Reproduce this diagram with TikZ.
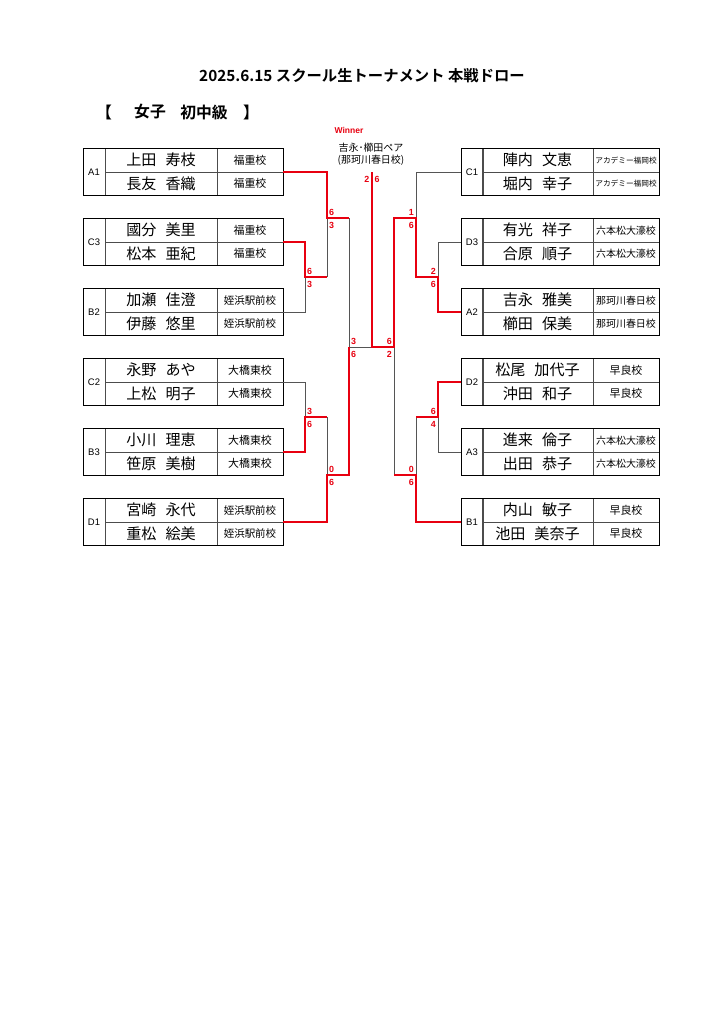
\documentclass[tikz,border=0pt]{standalone}
\usepackage{fontspec}
\setmainfont{Noto Sans CJK JP}[BoldFont={Noto Sans CJK JP Bold}]
\newfontfamily\lat{Liberation Sans}
\definecolor{wred}{RGB}{232,0,16}
\definecolor{lgray}{RGB}{85,85,85}
\newcommand\gapp{\hspace{0.6em}}
\tikzset{
  cell/.style={draw=black!70, line width=0.5pt, inner sep=0pt, outer sep=0pt, anchor=north west},
  labcell/.style={cell, minimum width=18.08pt, minimum height=38.62pt, font={\lat\fontsize{7.8}{8}\selectfont}},
  lname/.style={cell, minimum width=92.04pt, minimum height=19.31pt, font={\fontsize{12.4}{13}\selectfont}},
  rname/.style={cell, minimum width=91.22pt, minimum height=19.31pt, font={\fontsize{12.4}{13}\selectfont}},
  school/.style={cell, minimum width=54.24pt, minimum height=19.31pt},
  frame/.style={draw=black, line width=0.8pt},
  win/.style={draw=wred, line width=1.4pt, line join=miter},
  lose/.style={draw=lgray, line width=0.7pt},
  scoreL/.style={anchor=west, text=wred, inner sep=0pt, font={\lat\bfseries\fontsize{7.3}{7.3}\selectfont}},
  scoreR/.style={anchor=east, text=wred, inner sep=0pt, font={\lat\bfseries\fontsize{7.3}{7.3}\selectfont}},
}
\newcommand\LBox[7]{%
  \node[labcell] (#1) at (83,#2) {#1};
  \node[lname] (#1n1) at (105,#2) {#3};
  \node[lname] (#1n2) at (105,{#2+23.5}) {#4};
  \node[school,font={\fontsize{#7}{#7}\selectfont}] (#1s1) at (217,#2) {#5};
  \node[school,font={\fontsize{#7}{#7}\selectfont}] (#1s2) at (217,{#2+23.5}) {#6};
  \draw[frame] (#1.north west) rectangle (#1s2.south east);
}
\newcommand\RBox[7]{%
  \node[labcell] (#1) at (461,#2) {#1};
  \node[rname] (#1n1) at (482,#2) {#3};
  \node[rname] (#1n2) at (482,{#2+23.5}) {#4};
  \node[school,font={\fontsize{#7}{#7}\selectfont}] (#1s1) at (593,#2) {#5};
  \node[school,font={\fontsize{#7}{#7}\selectfont}] (#1s2) at (593,{#2+23.5}) {#6};
  \draw[frame] (#1.north west) rectangle (#1s2.south east);
}
\begin{document}
\begin{tikzpicture}[x=0.8218pt, y=-0.8218pt]
\path[use as bounding box, fill=white] (0,0) rectangle (724,1024);

% titles
\node[font={\bfseries\fontsize{12.6}{13}\selectfont}] (title) at (362,76) {2025.6.15 スクール生トーナメント 本戦ドロー};
\node[font={\bfseries\fontsize{13}{13}\selectfont}] (br1) at (104,112) {【};
\node[font={\bfseries\fontsize{13}{13}\selectfont}] (cat1) at (150,112) {女子};
\node[font={\bfseries\fontsize{13}{13}\selectfont}] (cat2) at (204,112) {初中級};
\node[font={\bfseries\fontsize{13}{13}\selectfont}] (br2) at (251,112) {】};

% left boxes
\LBox{A1}{148.5}{上田\gapp 寿枝}{長友\gapp 香織}{福重校}{福重校}{9}
\LBox{C3}{218.5}{國分\gapp 美里}{松本\gapp 亜紀}{福重校}{福重校}{9}
\LBox{B2}{288.5}{加瀬\gapp 佳澄}{伊藤\gapp 悠里}{姪浜駅前校}{姪浜駅前校}{8.6}
\LBox{C2}{358.5}{永野\gapp あや}{上松\gapp 明子}{大橋東校}{大橋東校}{9}
\LBox{B3}{428.5}{小川\gapp 理恵}{笹原\gapp 美樹}{大橋東校}{大橋東校}{9}
\LBox{D1}{498.5}{宮崎\gapp 永代}{重松\gapp 絵美}{姪浜駅前校}{姪浜駅前校}{8.6}

% right boxes
\RBox{C1}{148.5}{陣内\gapp 文恵}{堀内\gapp 幸子}{アカデミー福岡校}{アカデミー福岡校}{6.3}
\RBox{D3}{218.5}{有光\gapp 祥子}{合原\gapp 順子}{六本松大濠校}{六本松大濠校}{8.2}
\RBox{A2}{288.5}{吉永\gapp 雅美}{櫛田\gapp 保美}{那珂川春日校}{那珂川春日校}{8.2}
\RBox{D2}{358.5}{松尾\gapp 加代子}{沖田\gapp 和子}{早良校}{早良校}{9}
\RBox{A3}{428.5}{進来\gapp 倫子}{出田\gapp 恭子}{六本松大濠校}{六本松大濠校}{8.2}
\RBox{B1}{498.5}{内山\gapp 敏子}{池田\gapp 美奈子}{早良校}{早良校}{9}

% junctions
\coordinate (L1) at (305,277);
\coordinate (L2) at (305,417);
\coordinate (Q1) at (327,218);
\coordinate (Q2) at (327,475);
\coordinate (S1) at (349,347);
\coordinate (F)  at (372,347);
\coordinate (Ftop) at (372,172);
\coordinate (R1) at (438,277);
\coordinate (R2) at (438,417);
\coordinate (P1) at (416,218);
\coordinate (P2) at (416,475);
\coordinate (S2) at (394,347);

% losing lines
\draw[lose] (B2s1.south east) -| (L1);
\draw[lose] (L1 -| Q1) -- (Q1);
\draw[lose] (C2s1.south east) -| (L2);
\draw[lose] (L2 -| Q2) -- (Q2);
\draw[lose] (Q1 -| S1) -- (S1) -- (F);
\draw[lose] (C1.west) -| (P1);
\draw[lose] (D3.west) -| (R1);
\draw[lose] (A3.west) -| (R2);
\draw[lose] (R2 -| P2) -- (P2);
\draw[lose] (P2 -| S2) -- (S2);

% winning lines
\draw[win] (C3s1.south east) -| (L1) -- (L1 -| Q1);
\draw[win] (A1s1.south east) -| (Q1) -- (Q1 -| S1);
\draw[win] (B3s1.south east) -| (L2) -- (L2 -| Q2);
\draw[win] (D1s1.south east) -| (Q2) -- (Q2 -| S1) -- (S1);
\draw[win] (D2.west) -| (R2) -- (R2 -| P2);
\draw[win] (B1.west) -| (P2) -- (P2 -| S2);
\draw[win] (A2.west) -| (R1) -- (R1 -| P1) -- (P1) -- (P1 -| S2) -- (S2) -- (F) -- (Ftop);

% scores left
\node[scoreL] (sc1) at (307,271.5) {6};
\node[scoreL] (sc2) at (307,284) {3};
\node[scoreL] (sc3) at (329,212.5) {6};
\node[scoreL] (sc4) at (329,225) {3};
\node[scoreL] (sc5) at (307,411.5) {3};
\node[scoreL] (sc6) at (307,424) {6};
\node[scoreL] (sc7) at (329,469.5) {0};
\node[scoreL] (sc8) at (329,482) {6};
\node[scoreL] (sc9) at (351,341.5) {3};
\node[scoreL] (sc10) at (351,354) {6};
% scores right
\node[scoreR] (sc11) at (414,212.5) {1};
\node[scoreR] (sc12) at (414,225) {6};
\node[scoreR] (sc13) at (436,271.5) {2};
\node[scoreR] (sc14) at (436,284) {6};
\node[scoreR] (sc15) at (436,411.5) {6};
\node[scoreR] (sc16) at (436,424) {4};
\node[scoreR] (sc17) at (414,469.5) {0};
\node[scoreR] (sc18) at (414,482) {6};
\node[scoreR] (sc19) at (392,341.5) {6};
\node[scoreR] (sc20) at (392,354) {2};
% final
\node[scoreR] (sf1) at (369.5,179) {2};
\node[scoreL] (sf2) at (374.5,179) {6};

% winner
\node[text=wred, font={\lat\bfseries\fontsize{7}{7}\selectfont}] (winlab) at (349,130) {Winner};
\node[font={\fontsize{8.2}{9}\selectfont}] (winname) at (371,148) {吉永･櫛田ペア};
\node[font={\fontsize{8.2}{9}\selectfont}] (winclub) at (371,160) {(那珂川春日校)};
\end{tikzpicture}
\end{document}
